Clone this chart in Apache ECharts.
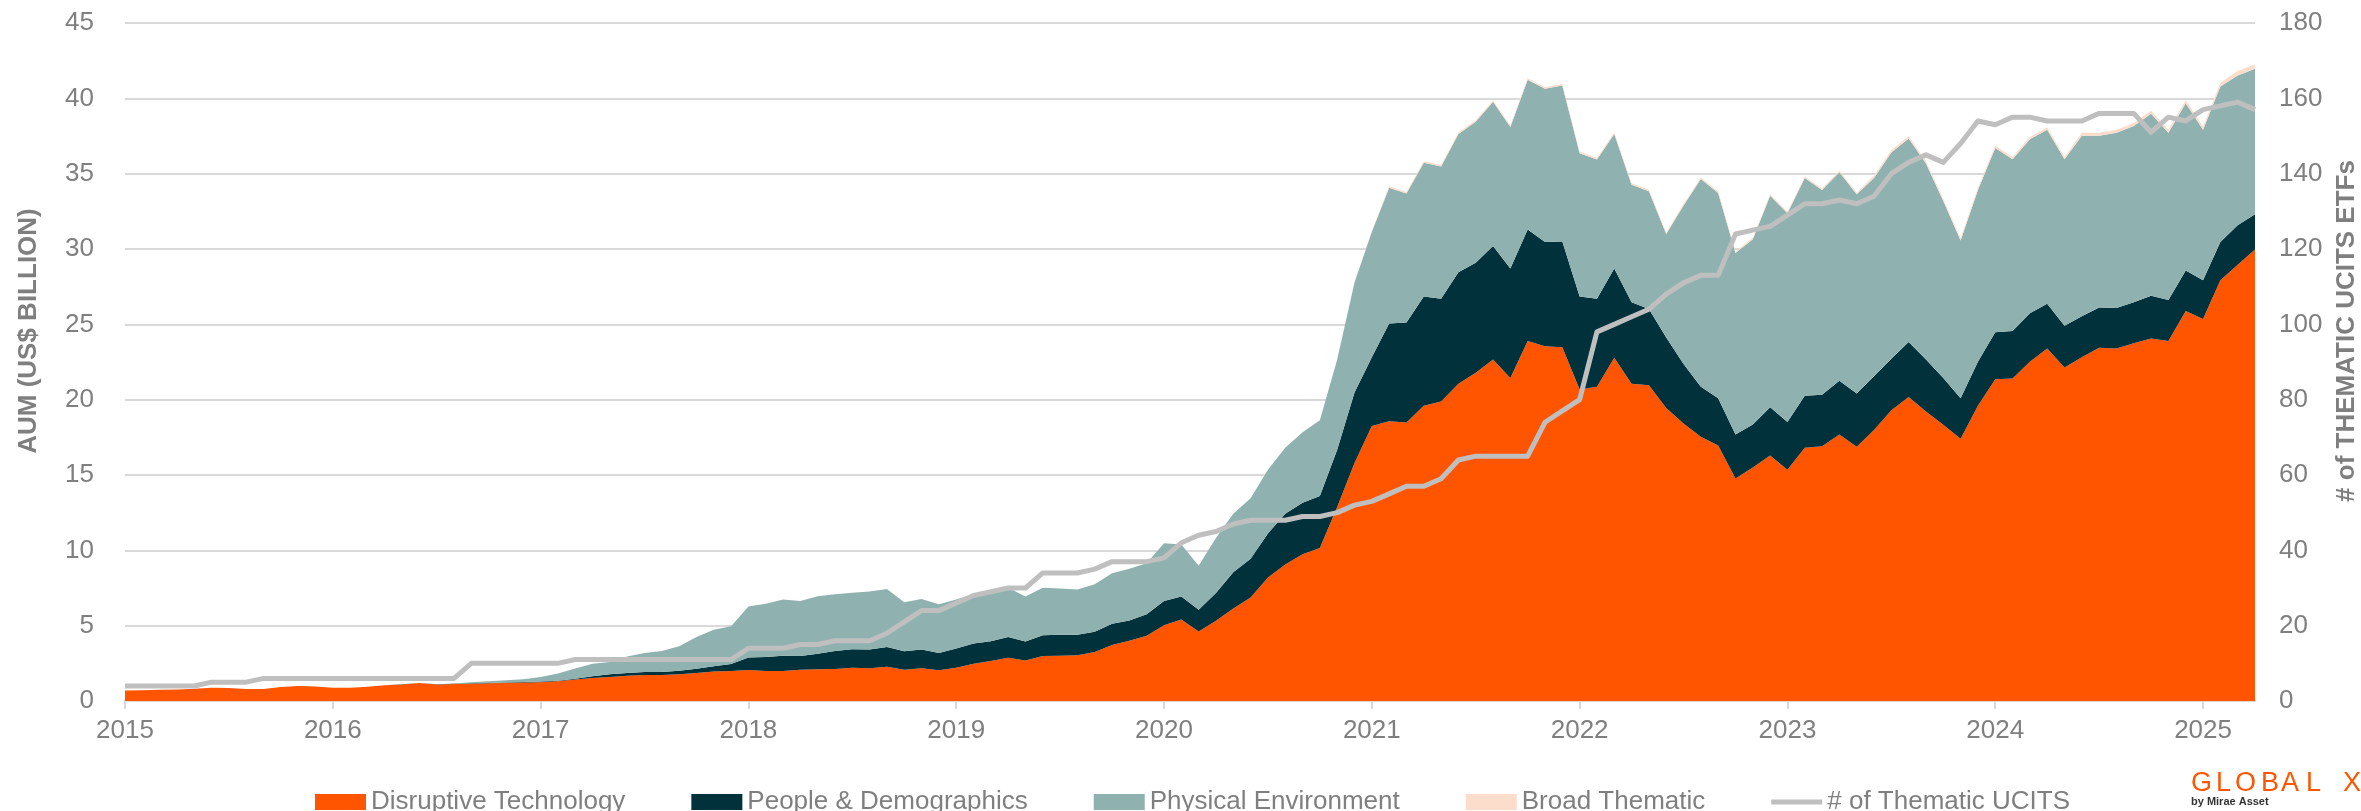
<!DOCTYPE html>
<html>
<head>
<meta charset="utf-8">
<title>Thematic UCITS ETF AUM</title>
<script src="https://cdn.jsdelivr.net/npm/echarts@6.0.0/dist/echarts.min.js"></script>
<style>
  html, body { margin: 0; padding: 0; background: #fff; }
  #chart { width: 2361px; height: 811px; }
</style>
</head>
<body>
<div id="chart"></div>
<script>
// monthly, Jan 2015 .. Apr 2025
const startYear = 2015;
const monthCount = 124;
const months = [];
for (let k = 0; k < monthCount; k++) {
  const y = startYear + Math.floor(k / 12);
  const m = (k % 12) + 1;
  months.push(y + "-" + (m < 10 ? "0" + m : m));
}

// AUM, US$ bn (one row per year)
const disruptive = [
  0.69, 0.71, 0.75, 0.77, 0.82, 0.88, 0.86, 0.80, 0.80, 0.93, 1.00, 0.97,
  0.88, 0.88, 0.95, 1.04, 1.10, 1.19, 1.10, 1.13, 1.15, 1.17, 1.20, 1.23,
  1.25, 1.31, 1.42, 1.53, 1.59, 1.68, 1.73, 1.73, 1.77, 1.86, 1.95, 1.99,
  2.06, 1.99, 1.99, 2.08, 2.10, 2.12, 2.21, 2.17, 2.28, 2.08, 2.17, 2.04,
  2.21, 2.48, 2.65, 2.87, 2.69, 2.98, 3.01, 3.04, 3.25, 3.71, 4.00, 4.33,
  5.03, 5.41, 4.62, 5.32, 6.14, 6.87, 8.19, 9.06, 9.74, 10.15, 12.87, 15.79,
  18.25, 18.57, 18.48, 19.59, 19.88, 21.05, 21.78, 22.66, 21.43, 23.89, 23.54, 23.48,
  20.67, 20.85, 22.78, 21.05, 20.96, 19.44, 18.42, 17.54, 16.96, 14.77, 15.50, 16.29,
  15.35, 16.81, 16.90, 17.69, 16.87, 17.98, 19.30, 20.18, 19.21, 18.33, 17.40, 19.59,
  21.35, 21.40, 22.51, 23.39, 22.13, 22.81, 23.45, 23.39, 23.74, 24.06, 23.89, 25.88,
  25.35, 27.92, 28.95, 29.97
];
const people = [
  0, 0, 0, 0, 0, 0, 0, 0, 0, 0, 0, 0,
  0, 0, 0, 0, 0.01, 0.01, 0.01, 0.02, 0.02, 0.03, 0.03, 0.03,
  0.04, 0.03, 0.06, 0.11, 0.18, 0.18, 0.19, 0.19, 0.24, 0.28, 0.35, 0.47,
  0.82, 0.93, 1.02, 0.91, 1.04, 1.20, 1.22, 1.24, 1.30, 1.22, 1.24, 1.15,
  1.27, 1.33, 1.31, 1.37, 1.26, 1.38, 1.38, 1.35, 1.34, 1.41, 1.35, 1.43,
  1.61, 1.52, 1.43, 1.84, 2.40, 2.57, 2.92, 3.37, 3.42, 3.45, 3.80, 4.68,
  4.56, 6.49, 6.64, 7.25, 6.82, 7.40, 7.31, 7.54, 7.28, 7.40, 6.93, 7.02,
  6.17, 5.85, 5.93, 5.41, 5.06, 4.68, 3.95, 3.31, 3.13, 2.92, 2.86, 3.21,
  3.16, 3.45, 3.42, 3.57, 3.54, 3.57, 3.42, 3.65, 3.45, 3.10, 2.69, 2.92,
  3.12, 3.16, 3.22, 2.98, 2.78, 2.72, 2.66, 2.69, 2.72, 2.84, 2.72, 2.69,
  2.57, 2.55, 2.63, 2.34
];
const physical = [
  0, 0, 0, 0, 0, 0, 0, 0, 0, 0, 0, 0,
  0, 0, 0, 0, 0, 0, 0, 0.01, 0.07, 0.11, 0.14, 0.18,
  0.30, 0.48, 0.67, 0.84, 0.82, 1.10, 1.27, 1.40, 1.62, 2.11, 2.43, 2.50,
  3.40, 3.54, 3.72, 3.65, 3.81, 3.76, 3.76, 3.85, 3.85, 3.25, 3.36, 3.23,
  3.25, 3.27, 3.29, 3.28, 2.98, 3.15, 3.07, 3.01, 3.16, 3.36, 3.42, 3.39,
  3.83, 3.45, 2.93, 3.66, 3.89, 4.01, 4.24, 4.38, 4.68, 5.03, 5.99, 7.31,
  8.33, 9.00, 8.56, 8.89, 8.77, 9.18, 9.36, 9.57, 9.39, 9.94, 10.17, 10.35,
  9.51, 9.24, 8.92, 7.81, 7.81, 6.87, 10.52, 13.80, 13.62, 12.05, 12.28, 14.04,
  13.86, 14.45, 13.60, 13.83, 13.22, 13.16, 13.68, 13.51, 13.01, 11.76, 10.47, 11.41,
  12.23, 11.40, 11.55, 11.55, 11.05, 11.98, 11.40, 11.64, 11.70, 12.08, 11.11, 11.11,
  10.00, 10.32, 9.94, 9.65
];
const broad = [
  0, 0, 0, 0, 0, 0, 0, 0, 0, 0, 0, 0,
  0, 0, 0, 0, 0, 0, 0, 0, 0, 0, 0, 0,
  0, 0, 0, 0, 0, 0, 0, 0, 0, 0, 0, 0,
  0, 0, 0, 0, 0, 0, 0, 0, 0, 0, 0, 0,
  0, 0, 0, 0, 0, 0, 0, 0, 0, 0, 0, 0,
  0, 0, 0, 0, 0, 0, 0, 0, 0, 0, 0, 0,
  0.05, 0.1, 0.1, 0.1, 0.1, 0.1, 0.1, 0.1, 0.1, 0.1, 0.1, 0.1,
  0.1, 0.1, 0.1, 0.1, 0.1, 0.1, 0.1, 0.1, 0.1, 0.1, 0.1, 0.1,
  0.1, 0.1, 0.1, 0.1, 0.1, 0.15, 0.15, 0.15, 0.15, 0.15, 0.15, 0.15,
  0.15, 0.15, 0.15, 0.15, 0.15, 0.2, 0.2, 0.2, 0.2, 0.2, 0.2, 0.2,
  0.2, 0.25, 0.3, 0.3
];
// number of thematic UCITS ETFs
const ucits = [
  4, 4, 4, 4, 4, 5, 5, 5, 6, 6, 6, 6,
  6, 6, 6, 6, 6, 6, 6, 6, 10, 10, 10, 10,
  10, 10, 11, 11, 11, 11, 11, 11, 11, 11, 11, 11,
  14, 14, 14, 15, 15, 16, 16, 16, 18, 21, 24, 24,
  26, 28, 29, 30, 30, 34, 34, 34, 35, 37, 37, 37,
  38, 42, 44, 45, 47, 48, 48, 48, 49, 49, 50, 52,
  53, 55, 57, 57, 59, 64, 65, 65, 65, 65, 74, 77,
  80, 98, 100, 102, 104, 108, 111, 113, 113, 124, 125, 126,
  129, 132, 132, 133, 132, 134, 140, 143, 145, 143, 148, 154,
  153, 155, 155, 154, 154, 154, 156, 156, 156, 151, 155, 154,
  157, 158, 159, 157
];

const seriesNames = ["Disruptive Technology", "People & Demographics", "Physical Environment", "Broad Thematic", "# of Thematic UCITS"];

const ORANGE = "#FF5500";
const DARK = "#01313A";
const TEAL = "#8FB2B1";
const PEACH = "#FCDCCB";
const LINEGREY = "#BFBFBF";
const TXT = "#7F7F7F";
const GRID = "#D9D9D9";
const FONT = "'Liberation Sans', Arial, sans-serif";

const isYearStart = (idx) => idx % 12 === 0;

const areaSeries = (name, data, color) => ({
  name: name,
  type: "line",
  stack: "aum",
  data: data,
  symbol: "none",
  color: color,
  itemStyle: { color: color },
  lineStyle: { width: 0 },
  areaStyle: { color: color, opacity: 1 },
  emphasis: { disabled: true },
  z: 2,
});

// logo letters, spaced out like the brand mark
const logoLetters = ["G", "L", "O", "B", "A", "L", "X"];
const logoX = [2191, 2216, 2235, 2261, 2281, 2306, 2343];
const logo = logoLetters.map((ch, k) => ({
  type: "text",
  left: logoX[k],
  top: 770,
  style: { text: ch, fontSize: 27, fill: ORANGE, fontFamily: FONT },
}));

const chart = echarts.init(document.getElementById("chart"));
const option = {
  animation: false,
  backgroundColor: "#fff",
  textStyle: { fontFamily: FONT },
  grid: { left: 125, right: 106, top: 23, bottom: 110, outerBoundsMode: "none" },
  legend: {
    left: 310,
    top: 784,
    itemWidth: 51,
    itemHeight: 16,
    itemGap: 66,
    itemStyle: { borderWidth: 0 },
    textStyle: { fontSize: 26, color: TXT, fontFamily: FONT },
    data: [
      { name: seriesNames[0], icon: "rect" },
      { name: seriesNames[1], icon: "rect" },
      { name: seriesNames[2], icon: "rect" },
      { name: seriesNames[3], icon: "rect" },
      { name: seriesNames[4], icon: "path://M0,0 M51,16 M0,5.5 L51,5.5 L51,10.5 L0,10.5 Z" },
    ],
  },
  xAxis: {
    type: "category",
    data: months,
    boundaryGap: false,
    axisLine: { lineStyle: { color: GRID, width: 2 } },
    axisTick: { show: true, interval: isYearStart, length: 8, lineStyle: { color: GRID, width: 2 } },
    axisLabel: {
      interval: isYearStart,
      formatter: (v) => v.slice(0, 4),
      fontSize: 26,
      color: TXT,
      margin: 17,
    },
    splitLine: { show: false },
  },
  yAxis: [
    {
      type: "value",
      min: 0,
      max: 45,
      interval: 5,
      position: "left",
      name: "AUM (US$ BILLION)",
      nameLocation: "middle",
      nameRotate: 90,
      nameGap: 83,
      nameTextStyle: { fontSize: 26, fontWeight: "bold", color: TXT, padding: [0, 0, 0, 62] },
      axisLine: { show: false },
      axisTick: { show: false },
      axisLabel: { fontSize: 26, color: TXT, margin: 31 },
      splitLine: { show: true, lineStyle: { color: GRID, width: 2 } },
    },
    {
      type: "value",
      min: 0,
      max: 180,
      interval: 20,
      position: "right",
      name: "# of THEMATIC UCITS ETFs",
      nameLocation: "middle",
      nameRotate: 90,
      nameGap: 79,
      nameTextStyle: { fontSize: 26, fontWeight: "bold", color: TXT, padding: [0, 0, 0, 62] },
      axisLine: { show: false },
      axisTick: { show: false },
      axisLabel: { fontSize: 26, color: TXT, margin: 24 },
      splitLine: { show: false },
    },
  ],
  series: [
    areaSeries(seriesNames[0], disruptive, ORANGE),
    areaSeries(seriesNames[1], people, DARK),
    areaSeries(seriesNames[2], physical, TEAL),
    areaSeries(seriesNames[3], broad, PEACH),
    {
      name: seriesNames[4],
      type: "line",
      yAxisIndex: 1,
      data: ucits,
      symbol: "none",
      color: LINEGREY,
      itemStyle: { color: LINEGREY },
      lineStyle: { color: LINEGREY, width: 5, join: "round" },
      emphasis: { disabled: true },
      z: 5,
    },
  ],
  graphic: logo.concat([
    {
      type: "text",
      left: 2191,
      top: 796,
      style: { text: "by Mirae Asset", fontSize: 11, fontWeight: "bold", fill: "#333", fontFamily: FONT },
    },
  ]),
};
chart.setOption(option);
</script>
</body>
</html>
